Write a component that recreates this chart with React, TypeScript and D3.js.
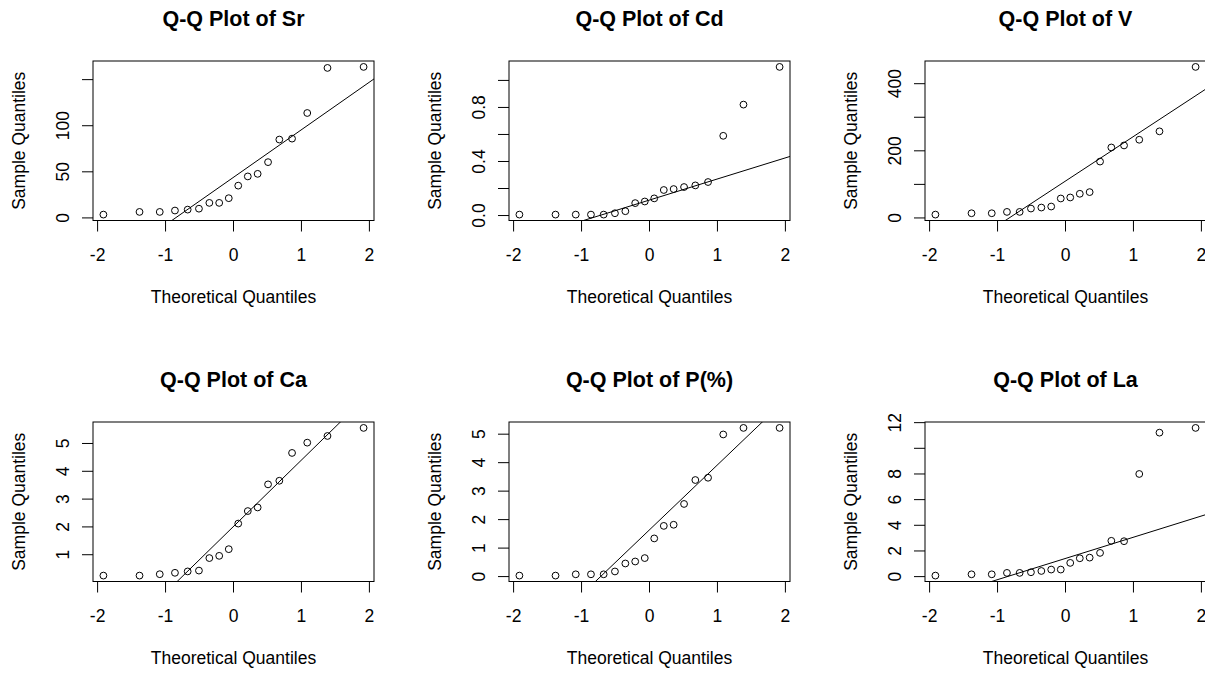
import * as d3 from "d3";
import { useEffect, useRef } from "react";

// normal quantiles for n = 18, (i - 0.5) / n
const theoretical = [
  -1.9145, -1.383, -1.0853, -0.8616, -0.6745, -0.5085, -0.3554, -0.2104, -0.0697,
  0.0697, 0.2104, 0.3554, 0.5085, 0.6745, 0.8616, 1.0853, 1.383, 1.9145,
];
const xTicks = [-2, -1, 0, 1, 2];

// sorted sample values
const srValues = [3.6, 6.5, 6.5, 8, 9, 10, 16.3, 16.3, 21.4, 35, 45, 47.8, 60.5, 85, 86, 113.8, 162.7, 163.8];
const cdValues = [0.007, 0.007, 0.007, 0.007, 0.007, 0.017, 0.032, 0.092, 0.104, 0.127, 0.189, 0.196, 0.211, 0.223, 0.248, 0.59, 0.821, 1.1];
const vValues = [10, 14, 14, 18, 18, 28, 31, 34, 58, 61, 72, 77, 168, 210, 216, 233, 258, 450];
const caValues = [0.25, 0.25, 0.3, 0.35, 0.4, 0.43, 0.88, 0.96, 1.2, 2.12, 2.57, 2.7, 3.53, 3.66, 4.66, 5.03, 5.27, 5.56];
const pValues = [0.035, 0.035, 0.08, 0.08, 0.08, 0.18, 0.46, 0.53, 0.65, 1.34, 1.78, 1.82, 2.55, 3.39, 3.47, 4.99, 5.22, 5.22];
const laValues = [0.08, 0.18, 0.18, 0.29, 0.29, 0.34, 0.44, 0.55, 0.55, 1.07, 1.43, 1.48, 1.85, 2.79, 2.76, 8.0, 11.22, 11.59];

// y ticks and the ones R kept a label for
const srTicks = [0, 50, 100, 150];
const srLabels = [0, 50, 100];
const cdTicks = [0, 0.2, 0.4, 0.6, 0.8, 1.0];
const cdLabels = [0, 0.4, 0.8];
const vTicks = [0, 100, 200, 300, 400];
const vLabels = [0, 200, 400];
const caTicks = [1, 2, 3, 4, 5];
const caLabels = [1, 2, 3, 4, 5];
const pTicks = [0, 1, 2, 3, 4, 5];
const pLabels = [0, 1, 2, 3, 4, 5];
const laTicks = [0, 2, 4, 6, 8, 10, 12];
const laLabels = [0, 2, 4, 6, 8, 12];

const panels = [
  { name: "Sr", values: srValues, ticks: srTicks, labels: srLabels, fmt: String },
  { name: "Cd", values: cdValues, ticks: cdTicks, labels: cdLabels, fmt: d3.format(".1f") },
  { name: "V", values: vValues, ticks: vTicks, labels: vLabels, fmt: String },
  { name: "Ca", values: caValues, ticks: caTicks, labels: caLabels, fmt: String },
  { name: "P(%)", values: pValues, ticks: pTicks, labels: pLabels, fmt: String },
  { name: "La", values: laValues, ticks: laTicks, labels: laLabels, fmt: String },
];

const FONT = "'Liberation Sans', Arial, sans-serif";

export default function App() {
  const width = 1205;
  const height = 673;
  const colLefts = [93, 509, 925];
  const rowTops = [61, 422];
  const boxW = 281;
  const boxH = 159.5;
  const tickLen = 11;

  const svgRef = useRef<SVGSVGElement>(null);

  useEffect(() => {
    const svg = d3.select(svgRef.current);
    svg.selectAll("*").remove();

    panels.forEach((p, i) => {
      const left = colLefts[i % 3];
      const top = rowTops[Math.floor(i / 3)];
      const right = left + boxW;
      const bottom = top + boxH;

      // R style ranges: data extent widened by 4% each side
      const [tx0, tx1] = d3.extent(theoretical) as [number, number];
      const xPad = (tx1 - tx0) * 0.04;
      const xScale = d3.scaleLinear().domain([tx0 - xPad, tx1 + xPad]).range([left, right]);

      const [vy0, vy1] = d3.extent(p.values) as [number, number];
      const yPad = (vy1 - vy0) * 0.04;
      const yScale = d3.scaleLinear().domain([vy0 - yPad, vy1 + yPad]).range([bottom, top]);

      const g = svg.append("g").attr("font-family", FONT).attr("fill", "#000");

      // title
      g.append("text")
        .attr("x", left + boxW / 2)
        .attr("y", top - 35)
        .attr("text-anchor", "middle")
        .attr("font-size", 21.5)
        .attr("font-weight", "bold")
        .text(`Q-Q Plot of ${p.name}`);

      // x axis
      g.selectAll(".xt")
        .data(xTicks)
        .enter()
        .append("line")
        .attr("x1", (d) => xScale(d))
        .attr("x2", (d) => xScale(d))
        .attr("y1", bottom)
        .attr("y2", bottom + tickLen)
        .attr("stroke", "#000");
      g.selectAll(".xl")
        .data(xTicks)
        .enter()
        .append("text")
        .attr("x", (d) => xScale(d))
        .attr("y", bottom + 40)
        .attr("text-anchor", "middle")
        .attr("font-size", 17.5)
        .text((d) => String(d));
      g.append("text")
        .attr("x", left + boxW / 2)
        .attr("y", bottom + 82.5)
        .attr("text-anchor", "middle")
        .attr("font-size", 17.5)
        .text("Theoretical Quantiles");

      // y axis
      g.selectAll(".yt")
        .data(p.ticks)
        .enter()
        .append("line")
        .attr("x1", left - tickLen)
        .attr("x2", left)
        .attr("y1", (d) => yScale(d))
        .attr("y2", (d) => yScale(d))
        .attr("stroke", "#000");
      g.selectAll(".yl")
        .data(p.labels)
        .enter()
        .append("text")
        .attr("transform", (d) => `translate(${left - 24.5},${yScale(d)}) rotate(-90)`)
        .attr("text-anchor", "middle")
        .attr("font-size", 17.5)
        .text((d) => p.fmt(d));
      g.append("text")
        .attr("transform", `translate(${left - 68},${top + boxH / 2}) rotate(-90)`)
        .attr("text-anchor", "middle")
        .attr("font-size", 17.5)
        .text("Sample Quantiles");

      // qqline through the quartiles, clipped to the box
      const sorted = [...p.values].sort(d3.ascending);
      const q1 = d3.quantile(sorted, 0.25) as number;
      const q3 = d3.quantile(sorted, 0.75) as number;
      const zq = 0.6744898;
      const slope = (q3 - q1) / (2 * zq);
      const intercept = q1 + zq * slope;
      const clipId = `box-clip-${i}`;
      svg.append("clipPath")
        .attr("id", clipId)
        .append("rect")
        .attr("x", left)
        .attr("y", top)
        .attr("width", boxW)
        .attr("height", boxH);
      const [d0, d1] = xScale.domain();
      g.append("line")
        .attr("clip-path", `url(#${clipId})`)
        .attr("x1", xScale(d0))
        .attr("y1", yScale(intercept + slope * d0))
        .attr("x2", xScale(d1))
        .attr("y2", yScale(intercept + slope * d1))
        .attr("stroke", "#000")
        .attr("stroke-width", 1);

      // points
      g.selectAll(".pt")
        .data(p.values)
        .enter()
        .append("circle")
        .attr("cx", (d, k) => xScale(theoretical[k]))
        .attr("cy", (d) => yScale(d))
        .attr("r", 3.4)
        .attr("fill", "none")
        .attr("stroke", "#000")
        .attr("stroke-width", 1);

      // plot box
      g.append("rect")
        .attr("x", left)
        .attr("y", top)
        .attr("width", boxW)
        .attr("height", boxH)
        .attr("fill", "none")
        .attr("stroke", "#000")
        .attr("stroke-width", 1);
    });
  }, []);

  return (
    <svg
      ref={svgRef}
      width={width}
      height={height}
      style={{ position: "absolute", left: 0, top: 0, background: "#fff" }}
    />
  );
}
